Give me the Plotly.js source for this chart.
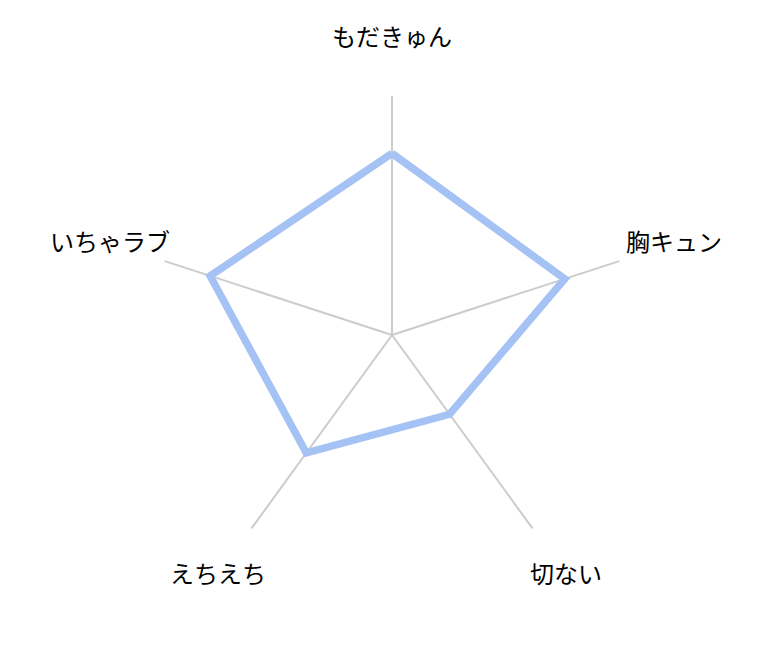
<!DOCTYPE html>
<html>
<head>
<meta charset="utf-8">
<script src="https://cdn.plot.ly/plotly-3.0.1.min.js"></script>
<style>html,body{margin:0;padding:0;background:#fff;}</style>
</head>
<body>
<div id="myDiv" style="width:782px;height:671px;"></div>
<script>
var categories = ["もだきゅん", "胸キュン", "切ない", "えちえち", "いちゃラブ"];
var values = [76, 76, 41, 61, 80];

var trace1 = {
    type: 'scatterpolar',
    r: values.concat([values[0]]),
    theta: categories.concat([categories[0]]),
    mode: 'lines',
    line: {color: '#a4c2f4', width: 7.5},
    hoverinfo: 'none'
};

// category labels placed round the outside, centred on their spoke
var labelDist = 0.621; // in plot-area fractions, from the centre
var annotations = categories.map(function (c, i) {
    var a = i * 2 * Math.PI / categories.length;
    return {
        xref: 'paper', yref: 'paper',
        x: 0.5 + labelDist * Math.sin(a),
        y: 0.5 + labelDist * Math.cos(a),
        xanchor: 'center', yanchor: 'middle',
        yshift: 3,
        text: c,
        showarrow: false,
        font: {family: '"Noto Sans CJK JP", sans-serif', size: 24, color: '#000'}
    };
});

var layout = {
    width: 782,
    height: 671,
    margin: {l: 153, r: 151, t: 96, b: 97, pad: 0},
    paper_bgcolor: '#fff',
    showlegend: false,
    font: {family: '"Noto Sans CJK JP", sans-serif', size: 24, color: '#000'},
    annotations: annotations,
    polar: {
        bgcolor: 'rgba(0,0,0,0)',
        gridshape: 'linear',
        radialaxis: {
            range: [0, 100],
            visible: false
        },
        angularaxis: {
            rotation: 90,
            direction: 'clockwise',
            showline: false,
            showticklabels: false,
            ticks: '',
            gridcolor: '#cccccc',
            gridwidth: 1.5
        }
    }
};

Plotly.newPlot('myDiv', [trace1], layout, {displayModeBar: false});
</script>
</body>
</html>
